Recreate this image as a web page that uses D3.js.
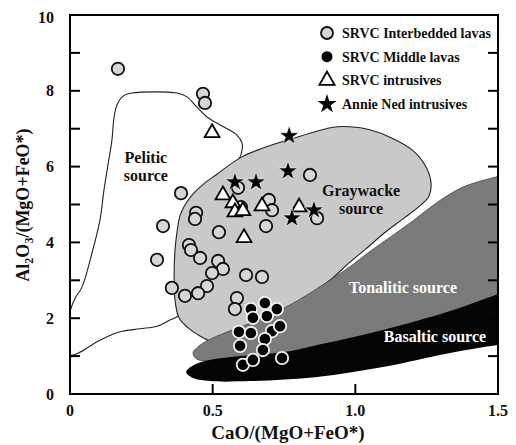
<!DOCTYPE html>
<html lang="en">
<head>
<meta charset="UTF-8">
<title>Al2O3/(MgO+FeO*) vs CaO/(MgO+FeO*)</title>
<style>
  body { margin: 0; background: #fff; }
  svg { display: block; }
  text { font-family: "Liberation Serif", "Times New Roman", serif; font-weight: bold; fill: #111; }
</style>
</head>
<body>
<svg id="chart" width="516" height="445"></svg>
<script src="https://cdn.jsdelivr.net/npm/d3@7/dist/d3.min.js"></script>
<script>
// axis ticks
const xTicks = [0, 0.5, 1.0, 1.5];
const xTickLabels = ["0", "0.5", "1.0", "1.5"];
const yTicks = [0, 2, 4, 6, 8, 10];
const yMinor = [1, 2, 3, 4, 5, 6, 7, 8, 9];

// samples [CaO/(MgO+FeO*), Al2O3/(MgO+FeO*)]
const interbedded = [
  [0.168, 8.58], [0.466, 7.92], [0.473, 7.68], [0.389, 5.30], [0.442, 4.78],
  [0.438, 4.62], [0.326, 4.43], [0.522, 4.27], [0.589, 5.44], [0.599, 4.93],
  [0.697, 5.12], [0.708, 4.85], [0.687, 4.43], [0.841, 5.78], [0.866, 4.64],
  [0.417, 3.93], [0.424, 3.80], [0.456, 3.59], [0.305, 3.54], [0.519, 3.51],
  [0.536, 3.30], [0.498, 3.19], [0.617, 3.14], [0.673, 3.09], [0.480, 2.85],
  [0.449, 2.66], [0.357, 2.80], [0.403, 2.59], [0.585, 2.53], [0.578, 2.24]
];
const middleLavas = [
  [0.634, 2.24], [0.683, 2.40], [0.725, 2.24], [0.641, 2.01], [0.690, 2.06],
  [0.592, 1.64], [0.634, 1.61], [0.708, 1.66], [0.736, 1.79], [0.683, 1.45],
  [0.596, 1.27], [0.676, 1.16], [0.606, 0.77], [0.641, 0.90], [0.743, 0.95]
];
const intrusives = [
  [0.498, 6.89], [0.536, 5.25], [0.571, 5.04], [0.578, 4.80],
  [0.606, 4.83], [0.673, 4.96], [0.610, 4.12], [0.803, 4.93]
];
const annieNed = [
  [0.578, 5.59], [0.652, 5.59], [0.768, 6.81], [0.764, 5.88], [0.778, 4.64], [0.855, 4.85]
];

// source fields (outlines)
const pelitic = [
  [0.000, 1.03], [0.105, 1.42], [0.175, 1.64], [0.245, 1.72], [0.305, 1.79],
  [0.350, 1.95], [0.379, 2.06], [0.456, 3.01], [0.543, 4.85], [0.582, 6.04],
  [0.589, 6.17], [0.599, 6.31], [0.603, 6.62], [0.585, 6.83], [0.526, 7.10],
  [0.480, 7.31], [0.445, 7.57], [0.410, 7.84], [0.375, 7.94], [0.217, 7.94],
  [0.186, 7.86], [0.165, 7.63], [0.154, 7.28], [0.147, 6.70], [0.133, 6.04],
  [0.119, 5.38], [0.105, 4.59], [0.077, 3.72], [0.042, 2.82], [0.018, 2.53],
  [0.000, 2.18], [-0.02, 1.6]
];
const graywacke = [
  [0.386, 4.72], [0.407, 5.04], [0.438, 5.33], [0.473, 5.57], [0.515, 5.80],
  [0.596, 6.23], [0.666, 6.46], [0.771, 6.72], [0.922, 7.04], [0.981, 7.05],
  [1.051, 6.97], [1.129, 6.75], [1.199, 6.44], [1.244, 6.04], [1.265, 5.59],
  [1.258, 5.22], [1.230, 4.99], [1.167, 4.62], [1.107, 4.28], [1.037, 3.83],
  [0.978, 3.46], [0.925, 3.09], [0.880, 2.82], [0.790, 2.27], [0.631, 1.64],
  [0.526, 1.35], [0.484, 1.42], [0.449, 1.56], [0.410, 1.77], [0.382, 2.01],
  [0.368, 2.48], [0.365, 3.14], [0.368, 3.80], [0.375, 4.27]
];
const tonalitic = [
  [0.431, 1.08], [0.456, 1.29], [0.501, 1.48], [0.641, 1.90], [0.771, 2.35],
  [0.876, 2.83], [0.981, 3.36], [1.051, 3.76], [1.132, 4.19], [1.202, 4.57],
  [1.286, 5.05], [1.377, 5.46], [1.500, 5.74], [1.595, 5.91],
  [1.595, 2.74], [1.500, 2.56], [1.332, 2.11], [1.097, 1.61], [0.866, 1.24],
  [0.631, 0.95], [0.491, 0.87], [0.445, 0.92]
];
const basaltic = [
  [0.407, 0.58], [0.428, 0.74], [0.473, 0.87], [0.571, 0.98], [0.771, 1.13],
  [0.866, 1.29], [1.097, 1.69], [1.332, 2.19], [1.500, 2.64], [1.595, 2.90],
  [1.595, 1.35], [1.500, 1.29], [1.332, 1.08], [1.097, 0.71], [0.866, 0.45],
  [0.631, 0.34], [0.491, 0.34], [0.431, 0.42]
];

const legendNames = ["SRVC Interbedded lavas", "SRVC Middle lavas", "SRVC intrusives", "Annie Ned intrusives"];

const svg = d3.select("#chart");
const pL = 70, pR = 498, pT = 15, pB = 394;
const x = d3.scaleLinear().domain([0, 1.5]).range([pL, pR]);
const y = d3.scaleLinear().domain([0, 10]).range([pB, pT]);

svg.append("clipPath").attr("id", "plotClip")
  .append("rect").attr("x", pL).attr("y", pT)
  .attr("width", pR - pL).attr("height", pB - pT);

const fields = svg.append("g").attr("clip-path", "url(#plotClip)");
const shape = d3.line().x(d => x(d[0])).y(d => y(d[1])).curve(d3.curveCatmullRomClosed.alpha(0.5));

fields.append("path").attr("d", shape(pelitic))
  .attr("fill", "#fff").attr("stroke", "#222").attr("stroke-width", 1.1);
fields.append("path").attr("d", shape(graywacke))
  .attr("fill", "#c9c9c9").attr("stroke", "#222").attr("stroke-width", 1.1);
fields.append("path").attr("d", shape(tonalitic))
  .attr("fill", "#7b7b7b").attr("stroke", "#444").attr("stroke-width", 0.8);
fields.append("path").attr("d", shape(basaltic))
  .attr("fill", "#050505").attr("stroke", "none");

// field names
function fieldLabel(lines, cx, cy, color) {
  lines.forEach((t, i) => {
    svg.append("text").attr("x", x(cx)).attr("y", y(cy) + i * 18)
      .attr("text-anchor", "middle").attr("font-size", 16)
      .style("fill", color).text(t);
  });
}
fieldLabel(["Pelitic", "source"], 0.266, 6.09, "#111");
fieldLabel(["Graywacke", "source"], 1.02, 5.22, "#111");
fieldLabel(["Tonalitic source"], 1.167, 2.66, "#fff");
fieldLabel(["Basaltic source"], 1.279, 1.36, "#fff");

// points
const pts = svg.append("g");
pts.selectAll(".ib").data(interbedded).join("circle")
  .attr("cx", d => x(d[0])).attr("cy", d => y(d[1])).attr("r", 6.2)
  .attr("fill", "#d6d6d6").attr("stroke", "#111").attr("stroke-width", 1.8);
pts.selectAll(".ml").data(middleLavas).join("circle")
  .attr("cx", d => x(d[0])).attr("cy", d => y(d[1])).attr("r", 6.2)
  .attr("fill", "#000").attr("stroke", "#f2f2f2").attr("stroke-width", 1.8);
const tri = d3.symbol().type(d3.symbolTriangle).size(95);
pts.selectAll(".tr").data(intrusives).join("path")
  .attr("d", tri).attr("transform", d => `translate(${x(d[0])},${y(d[1])})`)
  .attr("fill", "#fff").attr("stroke", "#000").attr("stroke-width", 1.8);
const star = d3.symbol().type(d3.symbolStar).size(115);
pts.selectAll(".st").data(annieNed).join("path")
  .attr("d", star).attr("transform", d => `translate(${x(d[0])},${y(d[1])})`)
  .attr("fill", "#000").attr("stroke", "#fff").attr("stroke-width", 0.6);

// frame and ticks
const ax = svg.append("g").attr("stroke", "#000").attr("stroke-width", 2);
ax.append("rect").attr("x", pL).attr("y", pT)
  .attr("width", pR - pL).attr("height", pB - pT).attr("fill", "none");
yMinor.forEach(v => {
  ax.append("line").attr("x1", pL).attr("x2", pL + 10).attr("y1", y(v)).attr("y2", y(v));
  ax.append("line").attr("x1", pR).attr("x2", pR - 10).attr("y1", y(v)).attr("y2", y(v));
});
xTicks.slice(1, -1).forEach(v => {
  ax.append("line").attr("x1", x(v)).attr("x2", x(v)).attr("y1", pB).attr("y2", pB - 10);
});

svg.selectAll(".yl").data(yTicks).join("text")
  .attr("x", 54).attr("y", d => y(d) + 5.5 + (d === 10 ? 2 : 0)).attr("text-anchor", "end")
  .attr("font-size", 16).text(d => d);
svg.selectAll(".xl").data(xTicks).join("text")
  .attr("x", d => x(d)).attr("y", 416).attr("text-anchor", "middle")
  .attr("font-size", 16).text((d, i) => xTickLabels[i]);

// axis titles
svg.append("text").attr("x", (pL + pR) / 2 + 4).attr("y", 439)
  .attr("text-anchor", "middle").attr("font-size", 19).text("CaO/(MgO+FeO*)");
const yt = svg.append("text").attr("transform", "translate(29,205) rotate(-90)")
  .attr("text-anchor", "middle").attr("font-size", 18);
yt.append("tspan").text("Al");
yt.append("tspan").attr("font-size", 12).attr("dy", 4).text("2");
yt.append("tspan").attr("dy", -4).text("O");
yt.append("tspan").attr("font-size", 12).attr("dy", 4).text("3");
yt.append("tspan").attr("dy", -4).text("/(MgO+FeO*)");

// legend
const lg = svg.append("g");
const lgSym = [
  g => g.append("circle").attr("r", 6).attr("fill", "#d6d6d6").attr("stroke", "#111").attr("stroke-width", 1.8),
  g => g.append("circle").attr("r", 5.5).attr("fill", "#000"),
  g => g.append("path").attr("d", d3.symbol().type(d3.symbolTriangle).size(100)).attr("fill", "#fff").attr("stroke", "#000").attr("stroke-width", 1.8),
  g => g.append("path").attr("d", d3.symbol().type(d3.symbolStar).size(115)).attr("fill", "#000")
];
legendNames.forEach((name, i) => {
  const row = lg.append("g").attr("transform", `translate(327,${33 + i * 23.7})`);
  lgSym[i](row);
  row.append("text").attr("x", 15).attr("y", 5).attr("font-size", 14).text(name);
});
</script>
</body>
</html>
